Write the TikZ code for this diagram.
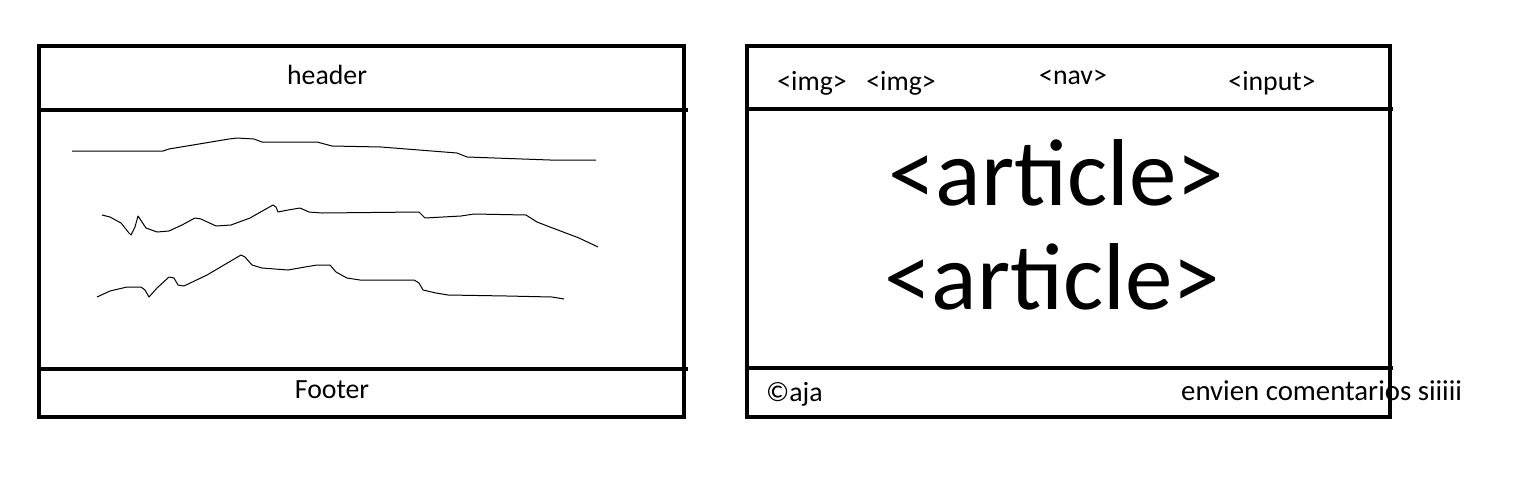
\documentclass[tikz,border=0pt]{standalone}
\usepackage{fontspec}
\setmainfont{Carlito}
\begin{document}
\begin{tikzpicture}[x=1pt,y=-1pt,
  frame/.style={line width=4pt},
  scribble/.style={line width=1pt,line join=round},
  lbl/.style={inner sep=0pt,font=\fontsize{27.8}{33}\selectfont},
  big/.style={inner sep=0pt,font=\fontsize{95}{110}\selectfont}]
\useasboundingbox (0,0) rectangle (1530,480);
% left wireframe
\draw[frame] (39,46) rectangle (684,417);
\draw[frame] (39,110) -- (688,110);
\draw[frame] (39,369) -- (688,369);
\node[lbl,anchor=base] (lhead) at (327,84) {header};
\node[lbl,anchor=base] (lfoot) at (332,398) {Footer};
\draw[scribble] (72,151) -- (163,151) -- (169,149) -- (229,139) -- (237,138) -- (254,139) -- (262,142) -- (317,142) -- (332,146) -- (381,147) -- (457,153) -- (467,157) -- (550,160) -- (596,160);
\draw[scribble] (102,215) -- (110,217) -- (121,223) -- (129,233) -- (131,235) -- (135,227) -- (138,216) -- (142,222) -- (146,228) -- (157,232) -- (169,231) -- (182,225) -- (195,218) -- (201,219) -- (216,226) -- (231,225) -- (250,218) -- (273,205) -- (276,207) -- (278,212) -- (288,210) -- (300,208) -- (309,212) -- (322,213) -- (419,212) -- (425,218) -- (461,216) -- (474,214) -- (526,215) -- (537,222) -- (550,227) -- (579,238) -- (598,247);
\draw[scribble] (97,297) -- (110,291) -- (127,287) -- (141,287) -- (145,290) -- (149,297) -- (157,288) -- (169,277) -- (174,278) -- (178,285) -- (184,286) -- (207,275) -- (241,255) -- (245,257) -- (252,265) -- (262,268) -- (288,270) -- (305,267) -- (317,265) -- (330,265) -- (336,272) -- (347,278) -- (360,280) -- (414,280) -- (419,283) -- (423,290) -- (436,293) -- (448,295) -- (507,296) -- (552,297) -- (564,299);
% right wireframe
\draw[frame] (747,46) rectangle (1390,417);
\draw[frame] (747,109) -- (1393,109);
\draw[frame] (747,368) -- (1393,368);
\node[lbl,anchor=base] (img1) at (812,90) {<img>};
\node[lbl,anchor=base] (img2) at (901,90) {<img>};
\node[lbl,anchor=base] (nav) at (1073,84) {<nav>};
\node[lbl,anchor=base] (inp) at (1272,90) {<input>};
\node[big,anchor=base] (art1) at (1056,205) {<article>};
\node[big,anchor=base] (art2) at (1052,309) {<article>};
\node[lbl,anchor=base west] (copy) at (766,401) {©aja};
\node[lbl,anchor=base west,font=\fontsize{28.8}{34}\selectfont] (coment) at (1181,400) {envien comentarios siiiii};
\end{tikzpicture}
\end{document}
